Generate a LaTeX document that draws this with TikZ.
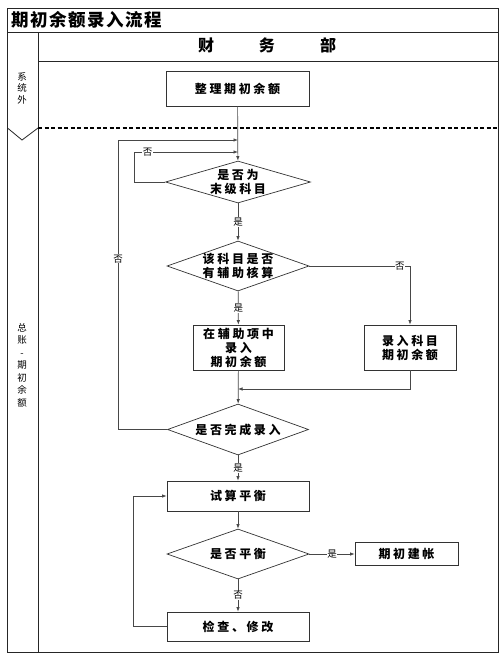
\documentclass[tikz,border=0pt]{standalone}
\usepackage{fontspec}
\usetikzlibrary{shapes.geometric,arrows.meta}
\newfontfamily\cjk[LetterSpace=22]{Noto Sans CJK SC}
\newfontfamily\cjktitle[LetterSpace=9]{Noto Sans CJK SC}
\newfontfamily\cjkplain{Noto Sans CJK SC}
\begin{document}
\begin{tikzpicture}[x=1pt,y=-1pt,
  frame/.style={draw=black!85,line width=0.8pt},
  flow/.style={draw=black!72,line width=0.7pt,-{Latex[length=4.5pt,width=3.4pt]}},
  box/.style={draw=black!80,line width=0.7pt,rectangle,inner sep=0pt,align=center,
    font=\cjk\bfseries\fontsize{12}{14}\selectfont},
  dia/.style={draw=black!80,line width=0.7pt,diamond,inner sep=0pt},
  dtxt/.style={inner sep=0pt,align=center,font=\cjk\bfseries\fontsize{12}{13.5}\selectfont},
  lab/.style={fill=white,inner sep=0.6pt,font=\cjkplain\fontsize{9.5}{10}\selectfont},
  vert/.style={inner sep=0pt,align=center,font=\cjkplain\fontsize{9.5}{11.5}\selectfont},
]
\fill[white] (0,0) rectangle (501,664);
\useasboundingbox (0,0) rectangle (501,664);

% frame
\draw[frame] (7.5,8) rectangle (498,652);
\draw[frame] (7.5,32) -- (498,32);
\draw[frame] (38,32) -- (38,652);
\draw[frame] (38,61) -- (498,61);
\draw[black,line width=1.8pt,dash pattern=on 4pt off 2.5pt] (38,128) -- (498,128);
\draw[frame] (7.5,128) -- (22,140) -- (38,128);

\node[anchor=west,inner sep=0pt,font=\cjktitle\bfseries\fontsize{17.5}{19}\selectfont] (title) at (11,20) {期初余额录入流程};
\node[inner sep=0pt,font=\cjkplain\bfseries\fontsize{16}{18}\selectfont] (hdr) at (267,45) {财\hspace{45pt}务\hspace{45pt}部};
\node[vert] (sys) at (22,88) {系\\统\\外};
\node[vert,font=\cjkplain\fontsize{9.5}{12.5}\selectfont] (gl) at (22,365) {总\\账\\-\\期\\初\\余\\额};

% nodes
\node[box,minimum width=143pt,minimum height=35pt] (b1) at (237.5,88.5) {整理期初余额};
\node[dia,minimum width=145pt,minimum height=42pt] (d1) at (238,182) {};
\node[dtxt] (d1t) at (d1) {是否为\\末级科目};
\node[dia,minimum width=142pt,minimum height=50pt] (d2) at (238,266) {};
\node[dtxt] (d2t) at (d2) {该科目是否\\有辅助核算};
\node[box,minimum width=91pt,minimum height=45pt] (b2) at (238.5,347.5) {在辅助项中\\录入\\期初余额};
\node[box,minimum width=92pt,minimum height=45pt] (b3) at (410,347.5) {录入科目\\期初余额};
\node[dia,minimum width=141pt,minimum height=51pt] (d3) at (238,429.5) {};
\node[dtxt] (d3t) at (d3) {是否完成录入};
\node[box,minimum width=142pt,minimum height=30pt] (b4) at (238,496) {试算平衡};
\node[dia,minimum width=142pt,minimum height=50pt] (d4) at (238,554) {};
\node[dtxt] (d4t) at (d4) {是否平衡};
\node[box,minimum width=103pt,minimum height=23pt] (b5) at (406.5,554) {期初建帐};
\node[box,minimum width=142pt,minimum height=29pt] (b6) at (238,626.5) {检查、修改};

\coordinate (j1) at (238,152);
\coordinate (j2) at (238,140);
\coordinate (j3) at (238,389);

% connectors
\draw[flow] (b1) -- (d1);
\draw[flow] (d1.west) -- ++(-31,0) |- (j1) node[lab,pos=0.565]{否};
\draw[flow] (d3.west) -| (118,140) node[lab,pos=0.795]{否} -- (j2);
\draw[flow] (d1) -- node[lab]{是} (d2);
\draw[flow] (d2.east) -| (b3.north) node[lab,pos=0.45]{否};
\draw[flow] (d2) -- node[lab]{是} (b2);
\draw[flow] (b2) -- (d3);
\draw[flow] (b3.south) |- (j3);
\draw[flow] (d3) -- node[lab]{是} (b4);
\draw[flow] (b4) -- (d4);
\draw[flow] (d4.east) -- node[lab]{是} (b5.west);
\draw[flow] (d4) -- node[lab]{否} (b6);
\draw[flow] (b6.west) -- ++(-33,0) |- (b4.west);
\end{tikzpicture}
\end{document}
